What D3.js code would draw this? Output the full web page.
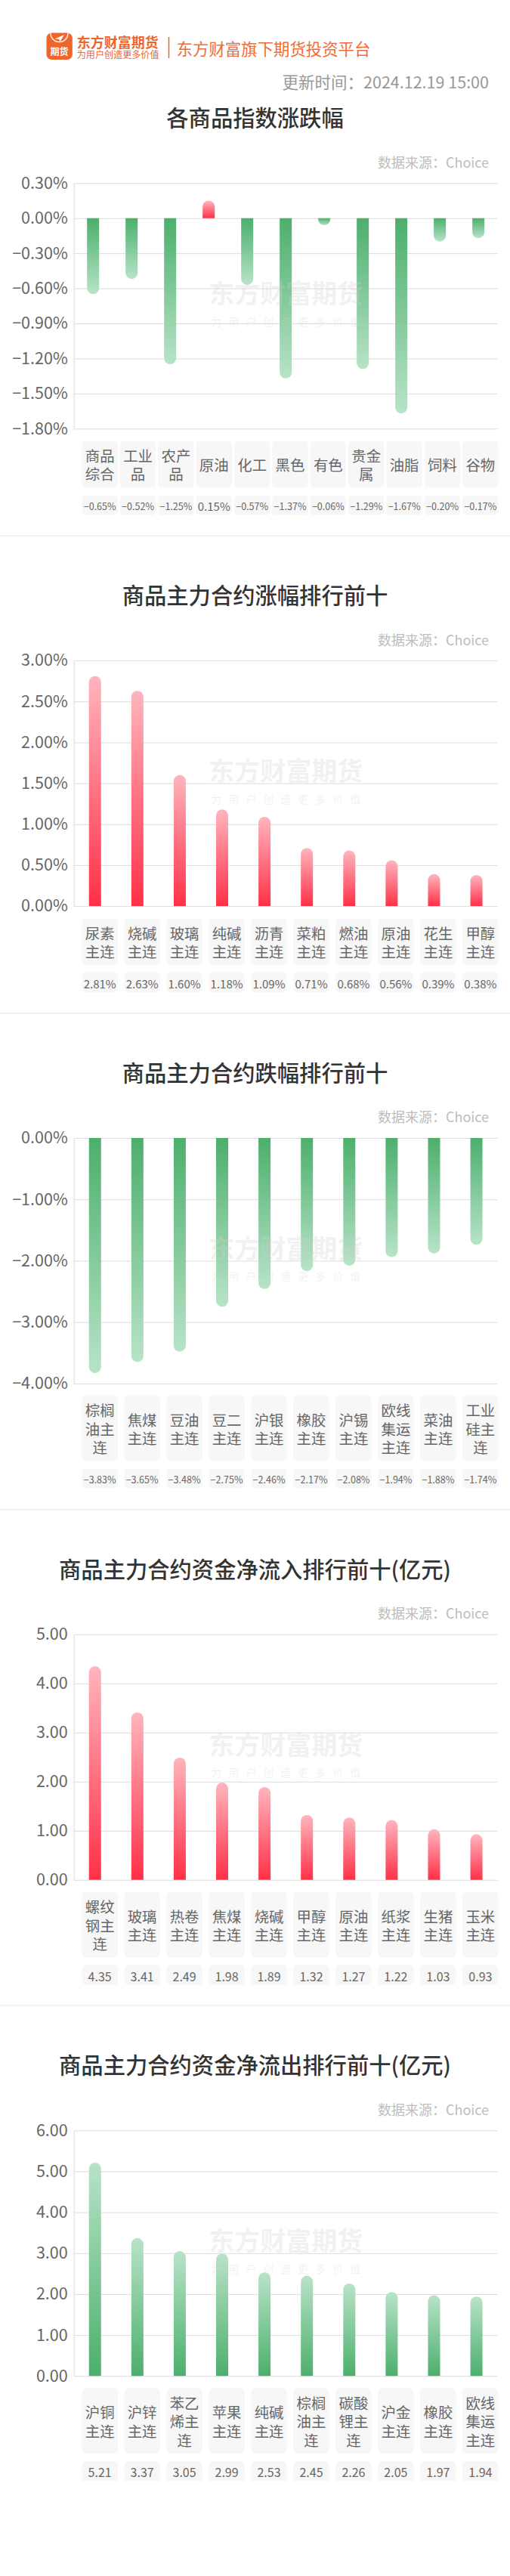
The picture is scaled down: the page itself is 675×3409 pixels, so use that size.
<!DOCTYPE html>
<html>
<head>
<meta charset="utf-8">
<script src="https://cdn.jsdelivr.net/npm/d3@7"></script>
<style>
body{margin:0;background:#fff;}
svg{display:block;font-family:"Noto Sans CJK SC","Noto Sans",sans-serif;}
</style>
</head>
<body>
<svg id="canvas"></svg>
<script>
// ---- data ----
let indexNames=["商品综合","工业品","农产品","原油","化工","黑色","有色","贵金属","油脂","饲料","谷物"];
let indexValues=[-0.65,-0.52,-1.25,0.15,-0.57,-1.37,-0.06,-1.29,-1.67,-0.20,-0.17];
let indexTicks=[0.3,0,-0.3,-0.6,-0.9,-1.2,-1.5,-1.8];

let gainNames=["尿素主连","烧碱主连","玻璃主连","纯碱主连","沥青主连","菜粕主连","燃油主连","原油主连","花生主连","甲醇主连"];
let gainValues=[2.81,2.63,1.60,1.18,1.09,0.71,0.68,0.56,0.39,0.38];
let gainTicks=[3,2.5,2,1.5,1,0.5,0];

let lossNames=["棕榈油主连","焦煤主连","豆油主连","豆二主连","沪银主连","橡胶主连","沪锡主连","欧线集运主连","菜油主连","工业硅主连"];
let lossValues=[-3.83,-3.65,-3.48,-2.75,-2.46,-2.17,-2.08,-1.94,-1.88,-1.74];
let lossTicks=[0,-1,-2,-3,-4];

let inflowNames=["螺纹钢主连","玻璃主连","热卷主连","焦煤主连","烧碱主连","甲醇主连","原油主连","纸浆主连","生猪主连","玉米主连"];
let inflowValues=[4.35,3.41,2.49,1.98,1.89,1.32,1.27,1.22,1.03,0.93];
let inflowTicks=[5,4,3,2,1,0];

let outflowNames=["沪铜主连","沪锌主连","苯乙烯主连","苹果主连","纯碱主连","棕榈油主连","碳酸锂主连","沪金主连","橡胶主连","欧线集运主连"];
let outflowValues=[5.21,3.37,3.05,2.99,2.53,2.45,2.26,2.05,1.97,1.94];
let outflowTicks=[6,5,4,3,2,1,0];

let updateText="更新时间：2024.12.19 15:00";
let sourceText="数据来源：Choice";

let pct=v=>d3.format(".2f")(v)+"%";
let num=v=>d3.format(".2f")(v);

let charts=[
  {title:"各商品指数涨跌幅",names:indexNames,values:indexValues,ticks:indexTicks,fmt:pct,color:"sign"},
  {title:"商品主力合约涨幅排行前十",names:gainNames,values:gainValues,ticks:gainTicks,fmt:pct,color:"sign"},
  {title:"商品主力合约跌幅排行前十",names:lossNames,values:lossValues,ticks:lossTicks,fmt:pct,color:"sign"},
  {title:"商品主力合约资金净流入排行前十(亿元)",names:inflowNames,values:inflowValues,ticks:inflowTicks,fmt:num,color:"red"},
  {title:"商品主力合约资金净流出排行前十(亿元)",names:outflowNames,values:outflowValues,ticks:outflowTicks,fmt:num,color:"green"}
];

// ---- layout ----
let width=675,height=3409;
let plotLeft=97.7,plotRight=658.6,plotH=325;
let plotTops=[242.3,874.1,1505.9,2162.8,2819.3];
let boxLeft=108.5,boxRight=659.5,boxW=47.3;
let barW=16,lineH=24.5;

let canvas=d3.select("#canvas").attr("width",width).attr("height",height);

// gradients
let defs=canvas.append("defs");
function grad(id,top,bottom){
  let g=defs.append("linearGradient").attr("id",id).attr("x1",0).attr("y1",0).attr("x2",0).attr("y2",1);
  g.append("stop").attr("offset","0%").attr("stop-color",top);
  g.append("stop").attr("offset","100%").attr("stop-color",bottom);
}
grad("redUp","#ffb5be","#ff3048");
grad("greenDown","#4caf6c","#b8e3c8");
grad("greenUp","#b8e3c8","#4caf6c");

// ---- header ----
let orange="#f0652a";
let head=canvas.append("g");
head.append("rect").attr("x",61.5).attr("y",43.5).attr("width",34.3).attr("height",35.5).attr("rx",7).attr("fill",orange);
head.append("path").attr("d","M67,44 A11.5,11.5 0 0 0 90,44").attr("fill","none").attr("stroke","#fff").attr("stroke-width",1.4);
head.append("path").attr("d","M72.5,51.5 L85,46 L79.5,55 L78,51.8 Z").attr("fill","#fff");
head.append("text").attr("x",78.6).attr("y",67.5).attr("text-anchor","middle").attr("dominant-baseline","central")
  .attr("font-size",12).attr("font-weight",700).attr("fill","#fff").text("期货");
head.append("text").attr("x",101.7).attr("y",54.5).attr("dominant-baseline","central")
  .attr("font-size",18).attr("font-weight",700).attr("fill",orange).text("东方财富期货");
head.append("text").attr("x",101.7).attr("y",71.5).attr("dominant-baseline","central")
  .attr("font-size",12.1).attr("fill",orange).text("为用户创造更多价值");
head.append("line").attr("x1",223.5).attr("x2",223.5).attr("y1",49).attr("y2",77).attr("stroke",orange).attr("stroke-width",1.5);
head.append("text").attr("x",233.7).attr("y",63.4).attr("dominant-baseline","central")
  .attr("font-size",21.4).attr("fill","#f26b3a").text("东方财富旗下期货投资平台");
head.append("text").attr("x",647).attr("y",107.5).attr("text-anchor","end").attr("dominant-baseline","central")
  .attr("font-size",21.5).attr("fill","#999").text(updateText);

function barPath(x,w,y0,y1){
  let r=w/2,h=Math.abs(y1-y0),ry=Math.min(r,h);
  if(y1<y0){
    return `M${x},${y0}V${y1+ry}A${r},${ry} 0 0 1 ${x+w},${y1+ry}V${y0}Z`;
  }
  return `M${x},${y0}V${y1-ry}A${r},${ry} 0 0 0 ${x+w},${y1-ry}V${y0}Z`;
}

function wrap(name){
  let lines=[];
  for(let i=0;i<name.length;i+=2){lines.push(name.slice(i,i+2));}
  return lines;
}

function drawChart(cfg,idx){
  let top=plotTops[idx];
  let bottom=top+plotH;
  let g=canvas.append("g");

  g.append("text").attr("x",337.5).attr("y",top-88).attr("text-anchor","middle").attr("dominant-baseline","central")
    .attr("font-size",29.3).attr("font-weight",500).attr("fill","#333").text(cfg.title);
  g.append("text").attr("x",647).attr("y",top-28.5).attr("text-anchor","end").attr("dominant-baseline","central")
    .attr("font-size",18).attr("fill","#bdbdbd").text(sourceText);

  let xscale=d3.scaleBand().domain(cfg.names).range([plotLeft,plotRight]);
  let yscale=d3.scaleLinear().domain([d3.min(cfg.ticks),d3.max(cfg.ticks)]).range([bottom,top]);

  let yAxis=d3.axisLeft(yscale).tickValues(cfg.ticks).tickFormat(cfg.fmt)
    .tickSizeInner(-(plotRight-plotLeft)).tickSizeOuter(0).tickPadding(8);
  let ax=g.append("g").attr("transform","translate("+plotLeft+",0)").call(yAxis);
  ax.select(".domain").attr("stroke","#dcdcdc");
  ax.selectAll(".tick line").attr("stroke","#dcdcdc");
  ax.selectAll(".tick text").attr("fill","#666").attr("font-size",21.5).attr("font-family",null);
  ax.attr("font-family",null);

  let y0=yscale(0);
  g.selectAll(".bar").data(cfg.values).enter().append("path")
    .attr("class","bar")
    .attr("d",(v,i)=>barPath(xscale(cfg.names[i])+(xscale.bandwidth()-barW)/2,barW,y0,yscale(v)))
    .attr("fill",v=>{
      if(cfg.color=="red") return "url(#redUp)";
      if(cfg.color=="green") return "url(#greenUp)";
      return v>=0?"url(#redUp)":"url(#greenDown)";
    });

  // watermark
  let cx=(plotLeft+plotRight)/2,cy=(top+bottom)/2;
  g.append("text").attr("x",cx).attr("y",cy-18).attr("text-anchor","middle").attr("dominant-baseline","central")
    .attr("font-size",34).attr("font-weight",700).attr("fill","#d0d0d0").attr("fill-opacity",0.28).text("东方财富期货");
  g.append("text").attr("x",cx+4.5).attr("y",cy+20).attr("text-anchor","middle").attr("dominant-baseline","central")
    .attr("font-size",14).attr("letter-spacing",9).attr("fill","#d0d0d0").attr("fill-opacity",0.28).text("为用户创造更多价值");

  // label boxes
  let maxLines=d3.max(cfg.names,n=>wrap(n).length);
  let boxH=13+lineH*maxLines;
  let boxTop=bottom+16.3;
  let valTop=boxTop+boxH+9.8,valH=26.3;
  let px=d3.scalePoint().domain(cfg.names).range([boxLeft+boxW/2,boxRight-boxW/2]);

  let cells=g.selectAll(".cell").data(cfg.names).enter().append("g").attr("class","cell")
    .attr("transform",n=>"translate("+px(n)+",0)");
  cells.append("rect").attr("x",-boxW/2).attr("y",boxTop).attr("width",boxW).attr("height",boxH).attr("rx",5).attr("fill","#f7f7f7");
  cells.append("rect").attr("x",-boxW/2).attr("y",valTop).attr("width",boxW).attr("height",valH).attr("rx",5).attr("fill","#f7f7f7");
  cells.each(function(n,i){
    let lines=wrap(n);
    let mid=boxTop+boxH/2;
    let cell=d3.select(this);
    lines.forEach((t,k)=>{
      cell.append("text").attr("x",0).attr("y",mid+(k-(lines.length-1)/2)*lineH)
        .attr("text-anchor","middle").attr("dominant-baseline","central")
        .attr("font-size",19.4).attr("fill","#666").text(t);
    });
    let vt=cell.append("text").attr("x",0).attr("y",valTop+valH/2+1)
      .attr("text-anchor","middle").attr("dominant-baseline","central")
      .attr("font-size",16).attr("fill","#666").text(cfg.fmt(cfg.values[i]));
    let len=vt.node().getComputedTextLength();
    if(len>43){vt.attr("font-size",16*43/len);}
  });

  if(idx<plotTops.length-1){
    canvas.append("rect").attr("x",0).attr("y",plotTops[idx+1]-166).attr("width",width).attr("height",2).attr("fill","#f2f2f2");
  }
}

charts.forEach((c,i)=>drawChart(c,i));
</script>
</body>
</html>
